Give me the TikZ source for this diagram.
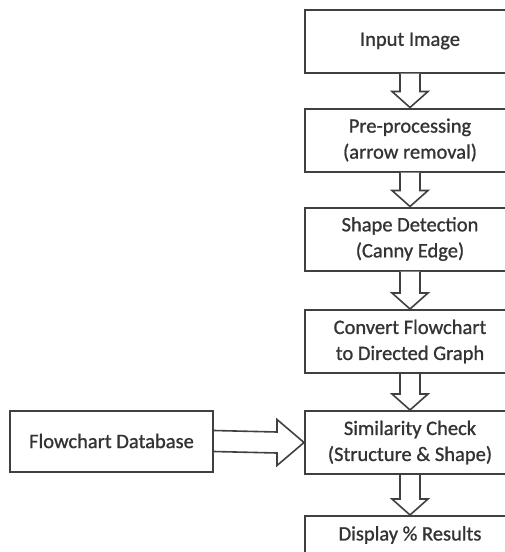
\documentclass[tikz,border=0pt]{standalone}
\usepackage{fontspec}
\setmainfont{Carlito}
\newfontfamily\boxfont{Carlito}[FakeBold=0.9]
\usetikzlibrary{calc}
\definecolor{ink}{rgb}{0.2,0.2,0.2}
\definecolor{edge}{rgb}{0.25,0.25,0.25}
\begin{document}
\begin{tikzpicture}[x=1pt,y=-1pt,
  box/.style={draw=edge,line width=2pt,fill=white,text=ink,align=center,
    minimum width=210pt,minimum height=63pt,inner sep=0pt,
    font=\boxfont\fontsize{20.5}{26}\selectfont},
  dbbox/.style={box,minimum width=203pt,minimum height=61pt},
  blockarrow/.style={draw=edge,line width=1.6pt,fill=white,line join=miter}]
\useasboundingbox (0,0) rectangle (505,552);
\clip (0,0) rectangle (505,552);
\node[box] (inp) at (410,41) {Input Image};
\node[box] (pre) at (410,140) {Pre-processing\\(arrow removal)};
\node[box] (shp) at (410,239) {Shape Detection\\(Canny Edge)};
\node[box] (cnv) at (410,341.5) {Convert Flowchart\\to Directed Graph};
\node[box] (sim) at (410,442.5) {Similarity Check\\(Structure \& Shape)};
\node[box,anchor=north,minimum height=70pt] (dsp) at (410,515) {};
\node[text=ink,font=\boxfont\fontsize{20.5}{26}\selectfont] (dsptxt) at (410,535) {Display \% Results};
\node[dbbox] (db) at (111.5,441) {Flowchart Database};
% vertical block arrows
\foreach \a/\b in {inp/pre,pre/shp,shp/cnv,cnv/sim,sim/dsp}{
  \path[blockarrow] ($(\a.south)+(-10,0)$) -- ($(\b.north)+(-10,-16)$)
    -- ($(\b.north)+(-18,-16)$) -- (\b.north) -- ($(\b.north)+(18,-16)$)
    -- ($(\b.north)+(10,-16)$) -- ($(\a.south)+(10,0)$);
}
% horizontal block arrow
\path[blockarrow] ($(db.east)+(0,-10.5)$) -- ($(sim.west)+(-27,-10.5)$)
  -- ($(sim.west)+(-27,-23)$) -- (sim.west) -- ($(sim.west)+(-27,23)$)
  -- ($(sim.west)+(-27,10.5)$) -- ($(db.east)+(0,10.5)$);
\end{tikzpicture}
\end{document}
